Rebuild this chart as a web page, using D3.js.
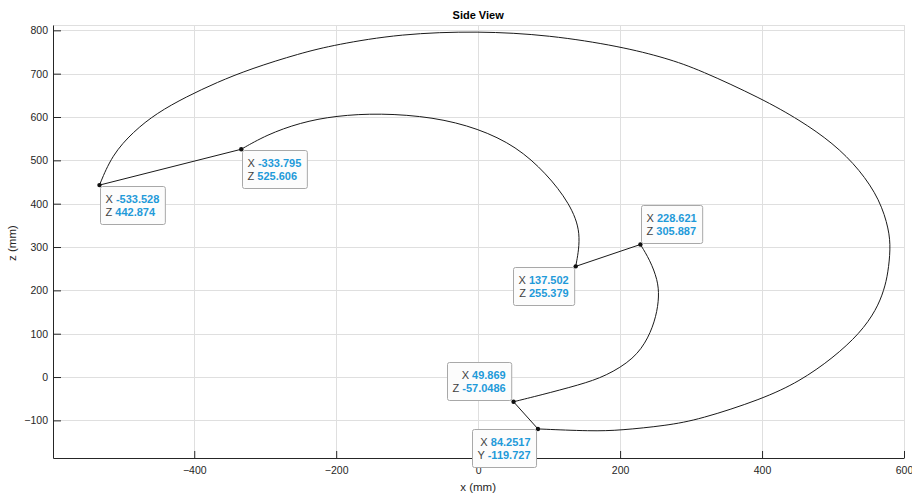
<!DOCTYPE html>
<html>
<head>
<meta charset="utf-8">
<script src="https://cdn.jsdelivr.net/npm/d3@7"></script>
<style>
  body { margin: 0; background: #fff; }
  text { font-family: "Liberation Sans", Arial, Helvetica, sans-serif; }
</style>
</head>
<body>
<div id="chart"></div>
<script>
// Chart data (mm)
const outerArc = [
  [-533.528, 442.874], [-516, 512], [-486, 566], [-453, 609], [-411, 647],
  [-368, 680], [-321, 711], [-251, 747], [-201, 767], [-110, 792],
  [0, 798.5], [101, 789], [200, 763], [265, 736], [312, 709],
  [400, 642], [453, 593], [500, 540], [538, 478], [566, 409],
  [579, 340], [581, 295], [577.5, 240], [572, 201], [561, 155],
  [538, 101], [500, 44], [453, -10], [400, -51],
  [312, -98], [265, -112], [200, -123], [160, -125], [84.2517, -119.727]
];
const innerArc = [
  [-333.795, 525.606], [-298, 559], [-251, 587], [-201, 603], [-138, 609],
  [-63, 600], [0, 574], [54, 532], [96, 470], [129, 401],
  [146, 332], [137.502, 255.379]
];
const hookArc = [
  [228.621, 305.887], [242, 270], [253, 224], [255, 186], [251, 140],
  [240, 90], [220, 42], [180, 2], [143, -18], [87, -42], [49.869, -57.0486]
];
const links = [
  [[-533.528, 442.874], [-333.795, 525.606]],
  [[137.502, 255.379], [228.621, 305.887]],
  [[49.869, -57.0486], [84.2517, -119.727]]
];

// Data tips
const tipX = [-533.528, -333.795, 137.502, 228.621, 49.869, 84.2517];
const tipZ = [442.874, 525.606, 255.379, 305.887, -57.0486, -119.727];
const tipXText = ["-533.528", "-333.795", "137.502", "228.621", "49.869", "84.2517"];
const tipZText = ["442.874", "525.606", "255.379", "305.887", "-57.0486", "-119.727"];
const tipZLabel = ["Z", "Z", "Z", "Z", "Z", "Y"];
const tipCorner = ["se", "se", "sw", "ne", "nw", "sw"];

const xTicks = [-400, -200, 0, 200, 400, 600];
const yTicks = [-100, 0, 100, 200, 300, 400, 500, 600, 700, 800];

function drawChart() {
  const width = 912;
  const height = 495;
  const margin = { top: 25, right: 8, bottom: 37, left: 53 };
  const axisColour = "#262626";

  const svg = d3
    .select("#chart")
    .append("svg")
    .attr("width", width)
    .attr("height", height);

  // Scales
  const x = d3
    .scaleLinear()
    .domain([-599, 600])
    .range([margin.left, width - margin.right]);
  const y = d3
    .scaleLinear()
    .domain([-186.8, 812.3])
    .range([height - margin.bottom, margin.top]);

  // Grid
  const grid = svg.append("g").attr("stroke", "#dfdfdf").attr("stroke-width", 1);
  grid
    .selectAll(".gx")
    .data(xTicks)
    .enter()
    .append("line")
    .attr("x1", (d) => Math.round(x(d)) + 0.5)
    .attr("x2", (d) => Math.round(x(d)) + 0.5)
    .attr("y1", margin.top)
    .attr("y2", height - margin.bottom);
  grid
    .selectAll(".gy")
    .data(yTicks)
    .enter()
    .append("line")
    .attr("x1", margin.left)
    .attr("x2", width - margin.right)
    .attr("y1", (d) => Math.round(y(d)) + 0.5)
    .attr("y2", (d) => Math.round(y(d)) + 0.5);
  // top edge of the axes box
  grid
    .append("line")
    .attr("x1", margin.left)
    .attr("x2", width - margin.right)
    .attr("y1", margin.top + 0.5)
    .attr("y2", margin.top + 0.5);

  // Axes (MATLAB style, ticks pointing in)
  const xAxis = d3.axisBottom(x).tickValues(xTicks).tickSizeInner(-7).tickSizeOuter(0).tickPadding(9);
  const yAxis = d3.axisLeft(y).tickValues(yTicks).tickSizeInner(-8).tickSizeOuter(0).tickPadding(12);

  const gx = svg
    .append("g")
    .attr("transform", `translate(0, ${height - margin.bottom})`)
    .call(xAxis);
  const gy = svg
    .append("g")
    .attr("transform", `translate(${margin.left}, 0)`)
    .call(yAxis);

  [gx, gy].forEach((g) => {
    g.select(".domain").attr("stroke", axisColour);
    g.selectAll(".tick line").attr("stroke", axisColour);
    g.selectAll(".tick text")
      .attr("fill", axisColour)
      .style("font-size", "10.5px")
      .style("font-family", '"Liberation Sans", Arial, sans-serif');
  });
  gy.selectAll(".tick text").attr("x", -5);

  // Title and axis labels
  svg
    .append("text")
    .attr("x", x(0))
    .attr("y", 19)
    .attr("text-anchor", "middle")
    .style("font-size", "11px")
    .style("font-weight", "bold")
    .attr("fill", "#000")
    .text("Side View");
  svg
    .append("text")
    .attr("x", x(0))
    .attr("y", 491)
    .attr("text-anchor", "middle")
    .style("font-size", "11.5px")
    .attr("fill", axisColour)
    .text("x (mm)");
  svg
    .append("text")
    .attr("transform", `translate(16, ${y(300) - 4}) rotate(-90)`)
    .attr("text-anchor", "middle")
    .style("font-size", "11.5px")
    .attr("fill", axisColour)
    .text("z (mm)");

  // Curves (B-spline through the read-off points to smooth reading noise)
  const curve = d3
    .line()
    .x((d) => x(d[0]))
    .y((d) => y(d[1]))
    .curve(d3.curveBasis);
  const straight = d3
    .line()
    .x((d) => x(d[0]))
    .y((d) => y(d[1]));

  const paths = svg.append("g").attr("fill", "none").attr("stroke", "#1a1a1a").attr("stroke-width", 1);
  [outerArc, innerArc, hookArc].forEach((arc) => paths.append("path").attr("d", curve(arc)));
  links.forEach((seg) => paths.append("path").attr("d", straight(seg)));

  // Data tip markers
  svg
    .selectAll(".tip-dot")
    .data(tipX)
    .enter()
    .append("circle")
    .attr("class", "tip-dot")
    .attr("cx", (d) => x(d))
    .attr("cy", (d, i) => y(tipZ[i]))
    .attr("r", 2.2)
    .attr("fill", "#111");

  // Data tip boxes
  const boxH = 38;
  tipX.forEach((xv, i) => {
    const px = x(xv);
    const py = y(tipZ[i]);
    const g = svg.append("g");
    const rect = g
      .append("rect")
      .attr("rx", 2)
      .attr("fill", "#fcfcfc")
      .attr("stroke", "#a8a8a8")
      .attr("stroke-width", 1);

    const lines = [
      ["X", tipXText[i]],
      [tipZLabel[i], tipZText[i]]
    ];
    const texts = lines.map((ln, k) => {
      const t = g
        .append("text")
        .attr("y", 16.5 + k * 13.6)
        .style("font-size", "11px");
      t.append("tspan").attr("fill", "#404040").text(ln[0] + " ");
      t.append("tspan").attr("fill", "#1f9ad9").style("font-weight", "bold").text(ln[1]);
      return t;
    });
    const textW = d3.max(texts, (t) => t.node().getComputedTextLength());
    const boxW = textW + 11;
    const right = tipCorner[i][1] === "w";
    const below = tipCorner[i][0] === "s";

    texts.forEach((t) => {
      if (right) {
        t.attr("x", boxW - 5.5).attr("text-anchor", "end");
      } else {
        t.attr("x", 5.5);
      }
    });
    rect.attr("x", 0.5).attr("y", 0.5).attr("width", boxW).attr("height", boxH);

    const bx = right ? px - boxW - 2 : px + 0.5;
    const by = below ? py + 0.5 : py - boxH - 1.5;
    g.attr("transform", `translate(${Math.round(bx)}, ${Math.round(by)})`);
  });
}

drawChart();
</script>
</body>
</html>
